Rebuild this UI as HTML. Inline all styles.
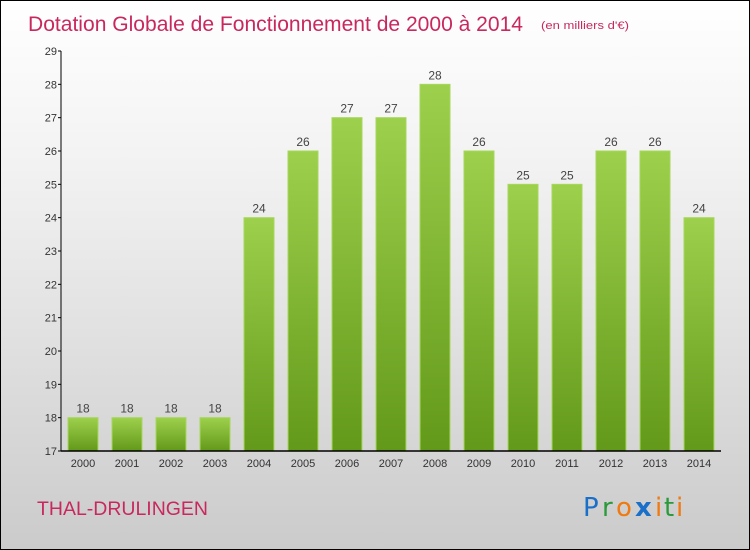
<!DOCTYPE html>
<html><head><meta charset="utf-8"><style>
body{margin:0}
#c{position:relative;width:750px;height:550px;box-sizing:border-box;border:1px solid #000;background:linear-gradient(#fff,#f2f2f2 30%,#cbcbcb);font-family:"Liberation Sans",sans-serif;overflow:hidden}
</style></head><body>
<div id="c">
<svg width="750" height="550" style="position:absolute;left:0;top:0" id="s">
<defs><linearGradient id="g" x1="0" y1="0" x2="0" y2="1"><stop offset="0" stop-color="#9dd04c"/><stop offset="1" stop-color="#63991a"/></linearGradient></defs>
<text x="27" y="30" font-size="21" fill="#c8285e" textLength="495" lengthAdjust="spacingAndGlyphs">Dotation Globale de Fonctionnement de 2000 à 2014</text>
<text x="540" y="28" font-size="11" fill="#c8285e" textLength="88" lengthAdjust="spacingAndGlyphs">(en milliers d'€)</text>
<text x="36" y="514" font-size="19" fill="#c8285e" textLength="171" lengthAdjust="spacingAndGlyphs">THAL-DRULINGEN</text>
<g font-size="26" font-family="'DejaVu Sans',sans-serif">
<text x="582" y="515" fill="#1a6fc9">P</text><text x="601" y="515" fill="#2a9a3a">r</text><text x="615" y="515" fill="#f07a10">o</text><text x="634" y="515" fill="#1a6fc9" font-weight="bold">x</text><text x="654" y="515" fill="#f07a10">i</text><text x="663" y="515" fill="#2a9a3a">t</text><text x="675" y="515" fill="#f07a10">i</text></g>
<g id="bars"></g>
</svg>
</div>
<script>
const years=["2000","2001","2002","2003","2004","2005","2006","2007","2008","2009","2010","2011","2012","2013","2014"];
const values=[18,18,18,18,24,26,27,27,28,26,25,25,26,26,24];
const yTicks=[17,18,19,20,21,22,23,24,25,26,27,28,29];
const ns="http://www.w3.org/2000/svg";
const svg=document.getElementById('s');
const X0=60,X1=720,Y0=450,Y1=50,ymin=17,ymax=29;
const slot=(X1-X0)/years.length;
const y=v=>Y0-(v-ymin)/(ymax-ymin)*(Y0-Y1);
const xc=i=>X0+slot*(i+0.5);
function mk(t,a){const e=document.createElementNS(ns,t);for(const k in a)e.setAttribute(k,a[k]);svg.appendChild(e);return e;}
values.forEach((v,i)=>{
const r=mk('rect',{x:xc(i)-15,y:y(v),width:30,height:Y0-y(v),fill:'url(#g)',stroke:'#a6d85a','stroke-width':1});


const t=mk('text',{x:xc(i),y:y(v)-5,'text-anchor':'middle','font-size':12,fill:'#444'});t.textContent=v;


const xl=mk('text',{x:xc(i),y:466,'text-anchor':'middle','font-size':11,fill:'#333'});xl.textContent=years[i];


});
yTicks.forEach(v=>{
const l=mk('line',{x1:X0-3,x2:X0,y1:y(v),y2:y(v),stroke:'#000'});


const t=mk('text',{x:X0-4,y:y(v)+4,'text-anchor':'end','font-size':11,fill:'#333'});t.textContent=v;


});
const ya=mk('line',{x1:X0,x2:X0,y1:Y1,y2:Y0,stroke:'#000','stroke-width':1});


const xa=mk('line',{x1:X0,x2:X1,y1:Y0,y2:Y0,stroke:'#000','stroke-width':1.5});


</script>
</body></html>
